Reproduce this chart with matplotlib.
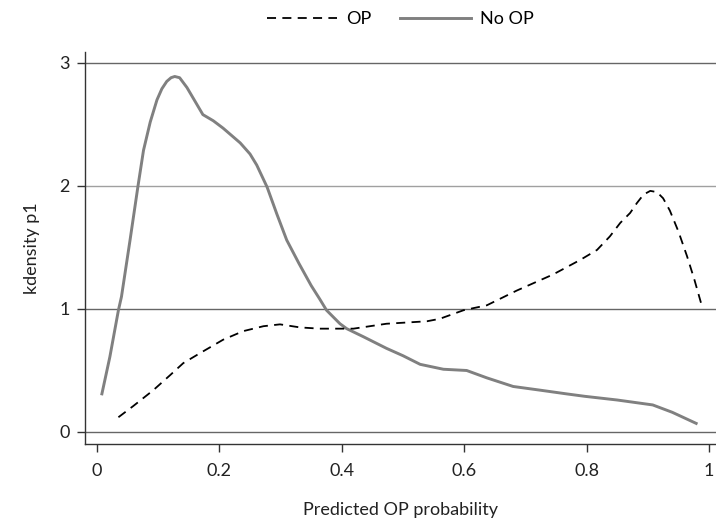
import matplotlib
matplotlib.use("Agg")
from matplotlib import pyplot as plt
import numpy as np

plt.rcParams['font.family'] = ['Lato', 'DejaVu Sans']

# kernel density of p1
op_x = [0.035, 0.059, 0.092, 0.119, 0.141, 0.168, 0.206, 0.239, 0.272, 0.299,
        0.332, 0.364, 0.392, 0.419, 0.473, 0.539, 0.560, 0.599, 0.637, 0.686,
        0.745, 0.790, 0.817, 0.838, 0.855, 0.871, 0.882, 0.893, 0.904, 0.915,
        0.925, 0.936, 0.950, 0.964, 0.976, 0.988]
op_y = [0.12, 0.21, 0.34, 0.46, 0.56, 0.64, 0.75, 0.82, 0.86, 0.875,
        0.85, 0.84, 0.84, 0.84, 0.88, 0.90, 0.92, 0.99, 1.03, 1.15,
        1.28, 1.40, 1.48, 1.59, 1.70, 1.78, 1.86, 1.93, 1.96, 1.95,
        1.90, 1.80, 1.63, 1.43, 1.24, 1.03]

noop_x = [0.008, 0.021, 0.035, 0.040, 0.054, 0.067, 0.076, 0.087, 0.098, 0.106,
          0.114, 0.121, 0.127, 0.135, 0.141, 0.147, 0.160, 0.173, 0.190, 0.206,
          0.220, 0.234, 0.250, 0.261, 0.278, 0.294, 0.310, 0.330, 0.350, 0.364,
          0.375, 0.397, 0.408, 0.435, 0.473, 0.500, 0.528, 0.566, 0.604, 0.637,
          0.680, 0.724, 0.767, 0.797, 0.850, 0.908, 0.940, 0.979]
noop_y = [0.31, 0.61, 0.99, 1.10, 1.56, 2.00, 2.29, 2.52, 2.70, 2.79,
          2.85, 2.88, 2.89, 2.88, 2.84, 2.80, 2.69, 2.58, 2.53, 2.47,
          2.41, 2.35, 2.26, 2.17, 1.99, 1.77, 1.56, 1.37, 1.19, 1.08,
          0.99, 0.88, 0.84, 0.775, 0.68, 0.62, 0.55, 0.51, 0.50, 0.44,
          0.37, 0.34, 0.31, 0.29, 0.26, 0.22, 0.16, 0.07]

fig = plt.figure(figsize=(7.16, 5.19), dpi=100)
ax = fig.add_axes([85/716, 1-444/519, 1-85/716, (444-52)/519])

# horizontal grid lines, clipped to the plot area
for yv, c in [(0, '#666666'), (1, '#666666'), (2, '#a0a0a0'), (3, '#666666')]:
    ax.axhline(yv, color=c, lw=1.0, zorder=1)

ax.plot(op_x, op_y, color='black', lw=1.3, ls=(0, (5, 3.5)), label='OP', zorder=3)
ax.plot(noop_x, noop_y, color='#808080', lw=2.1, label='No OP', zorder=2,
        solid_joinstyle='round')

ax.set_xlim(-0.0196, 1.0114)
ax.set_ylim(-0.0976, 3.089)
ax.set_xticks([0, 0.2, 0.4, 0.6, 0.8, 1])
ax.set_xticklabels(['0', '0.2', '0.4', '0.6', '0.8', '1'])
ax.set_yticks([0, 1, 2, 3])

for s in ['top', 'right']:
    ax.spines[s].set_visible(False)
for s in ['left', 'bottom']:
    ax.spines[s].set_color('#333333')
    ax.spines[s].set_linewidth(1.0)

ax.tick_params(axis='both', direction='out', length=6, width=1.0,
               color='#333333', labelsize=13, labelcolor='#222222')
ax.tick_params(axis='x', pad=8)
ax.tick_params(axis='y', pad=5)

ax.set_xlabel('Predicted OP probability', fontsize=13, color='#222222', labelpad=16)
ax.set_ylabel('kdensity p1', fontsize=13, color='#222222', labelpad=14)

fig.legend(loc='center', bbox_to_anchor=(400/716, 1-19/519), ncol=2,
           frameon=False, fontsize=13, handlelength=3.9, handletextpad=0.5,
           columnspacing=1.6)

fig.savefig('out.png', dpi=100)
